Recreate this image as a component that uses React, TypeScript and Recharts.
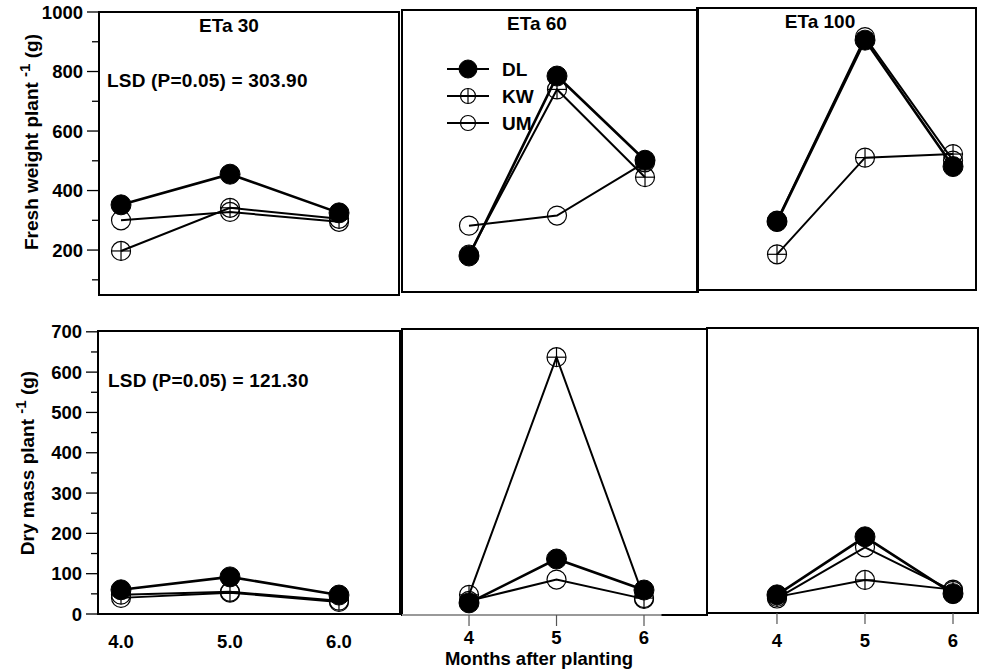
import React from 'react';
import { LineChart, Line, XAxis, YAxis, ReferenceArea, ReferenceLine, Legend } from 'recharts';

const FONT = '"Liberation Sans", Arial, Helvetica, sans-serif';

// months after planting
const months = [4, 5, 6];

// fresh weight per plant (g)
const freshDL30 = [352, 455, 325];
const freshKW30 = [197, 342, 305];
const freshUM30 = [300, 328, 295];

const freshDL60 = [180, 785, 502];
const freshKW60 = [185, 740, 445];
const freshUM60 = [282, 316, 495];

const freshDL100 = [295, 905, 480];
const freshKW100 = [185, 510, 522];
const freshUM100 = [298, 915, 500];

// dry mass per plant (g)
const dryDL30 = [60, 92, 47];
const dryKW30 = [48, 55, 33];
const dryUM30 = [40, 53, 30];

const dryDL60 = [30, 139, 62];
const dryKW60 = [50, 640, 42];
const dryUM60 = [35, 88, 40];

const dryDL100 = [45, 189, 48];
const dryKW100 = [40, 82, 58];
const dryUM100 = [36, 163, 55];

const freshTicks = [100, 200, 300, 400, 500, 600, 700, 800, 900, 1000];
const dryTicks = [0, 50, 100, 150, 200, 250, 300, 350, 400, 450, 500, 550, 600, 650, 700];

type Kind = 'DL' | 'KW' | 'UM';
const legendOrder: Kind[] = ['DL', 'KW', 'UM'];
const drawOrder: Kind[] = ['UM', 'KW', 'DL'];

const PAD = 70;

function Marker({ cx, cy, kind, small }: { cx: number; cy: number; kind: Kind; small?: boolean }) {
  if (cx == null || cy == null) return null;
  if (kind === 'DL') {
    return <circle cx={cx} cy={cy} r={small ? 9 : 10} fill="#000" stroke="#000" />;
  }
  const r = small ? 7.5 : 9.5;
  if (kind === 'KW') {
    return (
      <g>
        <circle cx={cx} cy={cy} r={r} fill="none" stroke="#000" strokeWidth={1.2} />
        <line x1={cx - r} x2={cx + r} y1={cy} y2={cy} stroke="#000" strokeWidth={1.2} />
        <line x1={cx} x2={cx} y1={cy - r} y2={cy + r} stroke="#000" strokeWidth={1.2} />
      </g>
    );
  }
  return <circle cx={cx} cy={cy} r={r} fill="none" stroke="#000" strokeWidth={1.2} />;
}

const makeYTick = (labelStep: number) => (p: any) => {
  const v = p.payload.value;
  const major = v % labelStep === 0;
  return (
    <g key={`yt-${v}`}>
      <line x1={p.x - (major ? 12 : 7)} x2={p.x} y1={p.y} y2={p.y} stroke="#000" strokeWidth={1.3} />
      {major && (
        <text x={p.x - 16} y={p.y} dy="0.36em" textAnchor="end" fontFamily={FONT} fontWeight="bold" fontSize={18.5} fill="#000">
          {v}
        </text>
      )}
    </g>
  );
};

const makeXTick = (fmt: (v: number) => string, tickLine: boolean, offset: number) => (p: any) => {
  const v = p.payload.value;
  return (
    <g key={`xt-${v}`}>
      {tickLine && <line x1={p.x} x2={p.x} y1={p.y} y2={p.y + 11} stroke="#555" strokeWidth={1.2} />}
      <text x={p.x} y={p.y + offset} textAnchor="middle" fontFamily={FONT} fontWeight="bold" fontSize={18.5} fill="#000">
        {fmt(v)}
      </text>
    </g>
  );
};

const LegendBox = () => (
  <svg width={110} height={80}>
    {legendOrder.map((k, i) => {
      const y = 10 + i * 27;
      return (
        <g key={k}>
          <line x1={2} x2={44} y1={y} y2={y} stroke="#000" strokeWidth={2} />
          <Marker cx={23} cy={y} kind={k} small />
          <text x={57} y={y} dy="0.36em" fontFamily={FONT} fontWeight="bold" fontSize={19} fill="#000">
            {k}
          </text>
        </g>
      );
    })}
  </svg>
);

interface PanelProps {
  box: { x: number; y: number; w: number; h: number };
  xDomain: [number, number];
  yDomain: [number, number];
  values: Record<Kind, number[]>;
  yTicks?: number[];
  yLabelStep?: number;
  xFmt?: (v: number) => string;
  xTickLine?: boolean;
  xLabelOffset?: number;
  legend?: boolean;
  axisStub?: number;
}

function Panel({ box, xDomain, yDomain, values, yTicks, yLabelStep, xFmt, xTickLine, xLabelOffset = 34, legend, axisStub }: PanelProps) {
  const data = months.map((m, i) => ({ m, DL: values.DL[i], KW: values.KW[i], UM: values.UM[i] }));
  const showY = !!yTicks;
  const showX = !!xFmt;
  return (
    <div style={{ position: 'absolute', left: box.x - PAD, top: box.y - PAD }}>
      <LineChart
        width={box.w + 2 * PAD}
        height={box.h + 2 * PAD}
        data={data}
        margin={{ top: PAD, right: PAD, bottom: showX ? 0 : PAD, left: showY ? 0 : PAD }}
      >
        <XAxis
          dataKey="m"
          type="number"
          domain={xDomain}
          ticks={months}
          interval={0}
          hide={!showX}
          height={PAD}
          axisLine={false}
          tickLine={false}
          tickSize={0}
          tickMargin={0}
          tick={showX ? makeXTick(xFmt!, !!xTickLine, xLabelOffset) : false}
        />
        <YAxis
          type="number"
          domain={yDomain}
          ticks={yTicks}
          interval={0}
          hide={!showY}
          width={PAD}
          axisLine={false}
          tickLine={false}
          tickSize={0}
          tickMargin={0}
          tick={showY ? makeYTick(yLabelStep!) : false}
        />
        {axisStub != null && (
          <ReferenceLine
            segment={[{ x: xDomain[0], y: yDomain[0] }, { x: axisStub, y: yDomain[0] }]}
            stroke="#999"
            strokeWidth={2}
            ifOverflow="visible"
          />
        )}
        <ReferenceArea
          x1={xDomain[0]}
          x2={xDomain[1]}
          y1={yDomain[0]}
          y2={yDomain[1]}
          fill="none"
          stroke="#000"
          strokeWidth={2}
          ifOverflow="visible"
        />
        {drawOrder.map((k) => (
          <Line
            key={k}
            dataKey={k}
            type="linear"
            stroke="#000"
            strokeWidth={k === 'DL' ? 2.6 : 2}
            isAnimationActive={false}
            dot={(p: any) => <Marker key={`${k}-${p.index}`} cx={p.cx} cy={p.cy} kind={k} />}
            activeDot={false}
          />
        ))}
        {legend && (
          <Legend
            layout="vertical"
            align="center"
            verticalAlign="middle"
            wrapperStyle={{ left: 43 + PAD, top: 49 + PAD, width: 110 }}
            content={() => <LegendBox />}
          />
        )}
      </LineChart>
    </div>
  );
}

const dec1 = (v: number) => v.toFixed(1);
const int = (v: number) => String(v);

const txt = { fontFamily: FONT, fontWeight: 'bold' as const, fontSize: 19, fill: '#000' };

export default function App() {
  return (
    <div style={{ position: 'absolute', left: 0, top: 0, width: 981, height: 670, background: '#fff', overflow: 'hidden' }}>
      {/* Fresh weight row */}
      <Panel
        box={{ x: 99, y: 12, w: 300, h: 283 }}
        xDomain={[3.798, 6.55]}
        yDomain={[49, 1000]}
        values={{ DL: freshDL30, KW: freshKW30, UM: freshUM30 }}
        yTicks={freshTicks}
        yLabelStep={200}
      />
      <Panel
        box={{ x: 402, y: 10, w: 296, h: 282 }}
        xDomain={[3.239, 6.602]}
        yDomain={[59, 1007]}
        values={{ DL: freshDL60, KW: freshKW60, UM: freshUM60 }}
        legend
      />
      <Panel
        box={{ x: 697, y: 8, w: 279, h: 282 }}
        xDomain={[3.091, 6.261]}
        yDomain={[65, 1013]}
        values={{ DL: freshDL100, KW: freshKW100, UM: freshUM100 }}
      />

      {/* Dry mass row */}
      <Panel
        box={{ x: 98, y: 331, w: 302, h: 283 }}
        xDomain={[3.789, 6.56]}
        yDomain={[0, 702]}
        values={{ DL: dryDL30, KW: dryKW30, UM: dryUM30 }}
        yTicks={dryTicks}
        yLabelStep={100}
        xFmt={dec1}
      />
      <Panel
        box={{ x: 402, y: 329, w: 305, h: 286 }}
        xDomain={[3.234, 6.72]}
        yDomain={[0, 710]}
        values={{ DL: dryDL60, KW: dryKW60, UM: dryUM60 }}
        xFmt={int}
        xTickLine
        xLabelOffset={29}
        axisStub={6.2}
      />
      <Panel
        box={{ x: 707, y: 328, w: 271, h: 285 }}
        xDomain={[3.205, 6.284]}
        yDomain={[0, 707]}
        values={{ DL: dryDL100, KW: dryKW100, UM: dryUM100 }}
        xFmt={int}
        xTickLine
      />

      {/* titles and annotations */}
      <svg width={981} height={670} style={{ position: 'absolute', left: 0, top: 0, pointerEvents: 'none' }}>
        <text x={229} y={32} textAnchor="middle" {...txt}>ETa 30</text>
        <text x={537} y={30} textAnchor="middle" {...txt}>ETa 60</text>
        <text x={820} y={28} textAnchor="middle" {...txt}>ETa 100</text>

        <text x={107} y={87} letterSpacing={0.2} {...txt}>LSD (P=0.05) = 303.90</text>
        <text x={108} y={387} letterSpacing={0.2} {...txt}>LSD (P=0.05) = 121.30</text>

        <text transform="translate(38,142) rotate(-90)" textAnchor="middle" {...txt}>
          Fresh weight plant <tspan fontSize={15} dy={-8}>-1</tspan><tspan dy={8}> (g)</tspan>
        </text>
        <text transform="translate(34,463) rotate(-90)" textAnchor="middle" {...txt}>
          Dry mass plant <tspan fontSize={15} dy={-8}>-1</tspan><tspan dy={8}> (g)</tspan>
        </text>

        <text x={539} y={665} textAnchor="middle" fontFamily={FONT} fontWeight="bold" fontSize={18.5} fill="#000">
          Months after planting
        </text>
      </svg>
    </div>
  );
}
